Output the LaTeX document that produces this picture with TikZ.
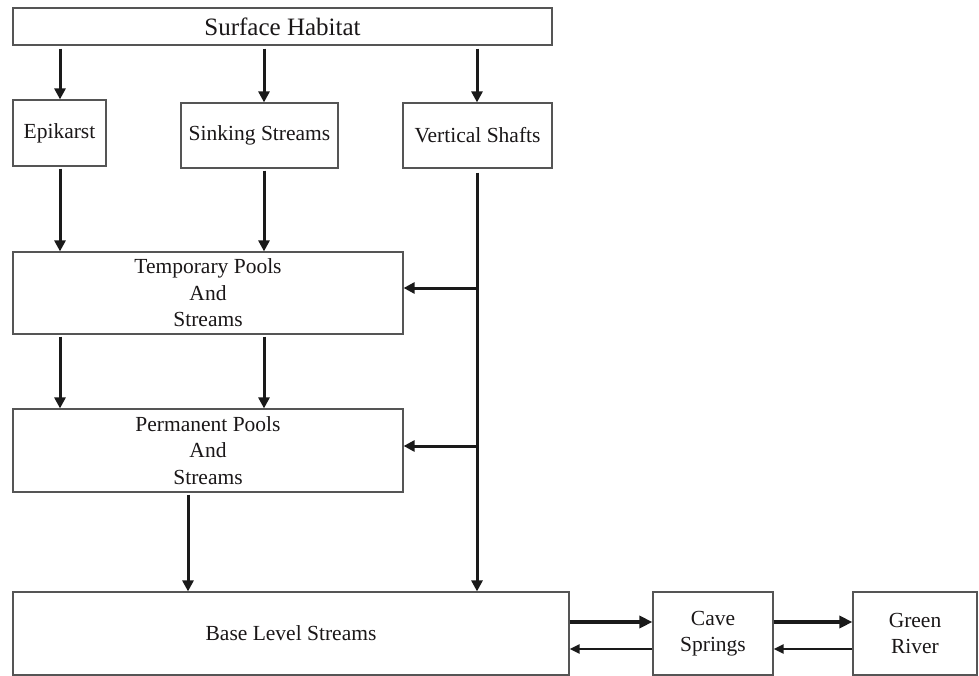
\documentclass[tikz,border=0pt]{standalone}
\usepackage{fontspec}
\setmainfont{Liberation Serif}
\usetikzlibrary{arrows.meta}
\definecolor{txt}{HTML}{1A1718}
\definecolor{brd}{HTML}{555555}
\definecolor{lnk}{HTML}{1A1A1A}
\tikzset{
  box/.style={draw=brd, line width=1.2pt, fill=white, text=txt, inner sep=0pt,
    align=center, font=\fontsize{21.5}{26.5}\selectfont},
  conn/.style={draw=lnk, line width=3pt, -{Triangle[length=11pt,width=11pt]}},
  fwd/.style={draw=lnk, line width=3.6pt, -{Triangle[length=13pt,width=12pt]}},
  bwd/.style={draw=lnk, line width=2.2pt, -{Triangle[length=10pt,width=9pt]}}
}
\begin{document}
\begin{tikzpicture}[x=1pt,y=-1pt]
\useasboundingbox (0,0) rectangle (979,676);
% boxes
\node[box, minimum width=539pt, minimum height=37pt, font=\fontsize{25}{30}\selectfont] (surf) at (282.5,26.5) {Surface Habitat};
\node[box, minimum width=93pt, minimum height=66pt] (epi) at (59.5,133) {Epikarst};
\node[box, minimum width=157pt, minimum height=65pt] (sink) at (259.5,135.5) {Sinking Streams};
\node[box, minimum width=149pt, minimum height=65pt] (vert) at (477.5,135.5) {Vertical Shafts};
\node[box, minimum width=390pt, minimum height=82pt] (temp) at (208,293) {Temporary Pools\\And\\Streams};
\node[box, minimum width=390pt, minimum height=83pt] (perm) at (208,450.5) {Permanent Pools\\And\\Streams};
\node[box, minimum width=556pt, minimum height=83pt] (base) at (291,633.5) {Base Level Streams};
\node[box, minimum width=120pt, minimum height=83pt] (cave) at (713,633.5) {Cave\\Springs};
\node[box, minimum width=124pt, minimum height=83pt] (green) at (915,633.5) {Green\\River};
% column coordinates
\coordinate (c1) at (60,0);
\coordinate (c2) at (264,0);
\coordinate (c3) at (477,0);
\coordinate (c4) at (188,0);
\coordinate (j1) at (477,288);
\coordinate (j2) at (477,446);
\coordinate (r1) at (0,622);
\coordinate (r2) at (0,649);
% surface to first row
\draw[conn] ([yshift=-3pt]surf.south -| c1) -- (epi.north -| c1);
\draw[conn] ([yshift=-3pt]surf.south -| c2) -- (sink.north -| c2);
\draw[conn] ([yshift=-3pt]surf.south -| c3) -- (vert.north -| c3);
% first row to temporary
\draw[conn] ([yshift=-2pt]epi.south -| c1) -- (temp.north -| c1);
\draw[conn] ([yshift=-2pt]sink.south -| c2) -- (temp.north -| c2);
% vertical shafts trunk
\draw[conn] ([yshift=-4pt]vert.south -| c3) -- (base.north -| c3);
\draw[conn] (j1) -- (temp.east |- j1);
\draw[conn] (j2) -- (perm.east |- j2);
% temporary to permanent
\draw[conn] ([yshift=-2pt]temp.south -| c1) -- (perm.north -| c1);
\draw[conn] ([yshift=-2pt]temp.south -| c2) -- (perm.north -| c2);
% permanent to base
\draw[conn] ([yshift=-2pt]perm.south -| c4) -- (base.north -| c4);
% horizontal exchanges
\draw[fwd] (base.east |- r1) -- (cave.west |- r1);
\draw[bwd] (cave.west |- r2) -- (base.east |- r2);
\draw[fwd] (cave.east |- r1) -- (green.west |- r1);
\draw[bwd] (green.west |- r2) -- (cave.east |- r2);
\end{tikzpicture}
\end{document}
